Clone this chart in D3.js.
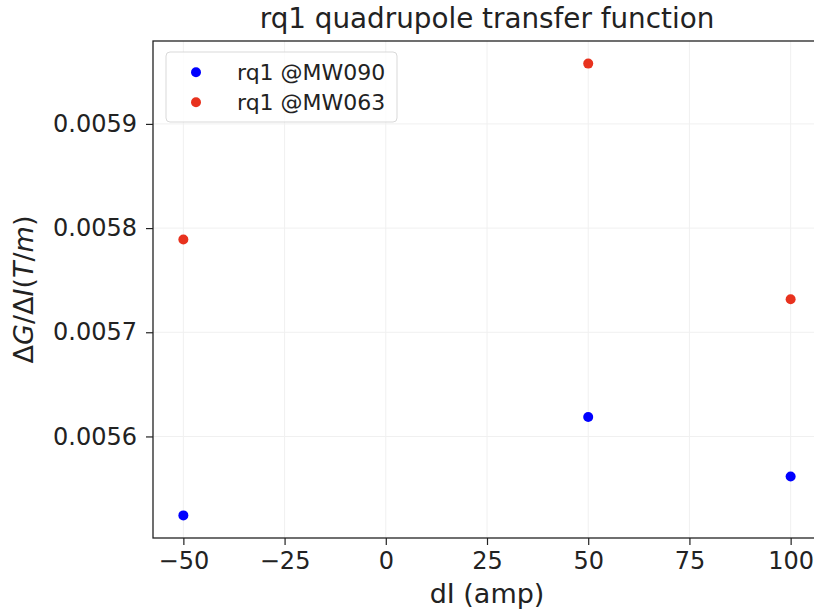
<!DOCTYPE html>
<html>
<head>
<meta charset="utf-8">
<script src="https://cdn.jsdelivr.net/npm/d3@7"></script>
<style>
  html, body { margin: 0; padding: 0; background: #fff; }
  svg { display: block; font-family: "DejaVu Sans", sans-serif; }
</style>
</head>
<body>
<svg id="chart" width="814" height="613"></svg>
<script>
// ---- data ----
const dI = [-50, 50, 100];
const seriesNames = ["rq1 @MW090", "rq1 @MW063"];
const seriesColors = ["#0000ff", "#e8321e"];
const valuesMW090 = [0.0055242, 0.0056186, 0.0055616];
const valuesMW063 = [0.0057890, 0.0059579, 0.0057317];
const xTicks = [-50, -25, 0, 25, 50, 75, 100];
const yTicks = [0.0056, 0.0057, 0.0058, 0.0059];
const titleText = "rq1 quadrupole transfer function";
const xLabelText = "dI (amp)";

(function () {
const series = [
  { name: seriesNames[0], color: seriesColors[0], values: valuesMW090 },
  { name: seriesNames[1], color: seriesColors[1], values: valuesMW063 }
];

// ---- layout ----
const svg = d3.select("#chart");
const pL = 153, pR = 821, pT = 41, pB = 538;

// matplotlib-like 5% margins
const xmin = d3.min(dI), xmax = d3.max(dI);
const xpad = (xmax - xmin) * 0.05;
const allY = valuesMW090.concat(valuesMW063);
const ymin = d3.min(allY), ymax = d3.max(allY);
const ypad = (ymax - ymin) * 0.05;

const x = d3.scaleLinear().domain([xmin - xpad, xmax + xpad]).range([pL, pR]);
const y = d3.scaleLinear().domain([ymin - ypad, ymax + ypad]).range([pB, pT]);

// grid
const grid = svg.append("g");
grid.selectAll("line.vx").data(xTicks).enter().append("line")
  .attr("x1", d => x(d)).attr("x2", d => x(d))
  .attr("y1", pT).attr("y2", pB)
  .attr("stroke", "#f0f0f0").attr("stroke-width", 1);
grid.selectAll("line.hy").data(yTicks).enter().append("line")
  .attr("x1", pL).attr("x2", pR)
  .attr("y1", d => y(d)).attr("y2", d => y(d))
  .attr("stroke", "#f0f0f0").attr("stroke-width", 1);

// points
series.forEach(s => {
  svg.append("g").selectAll("circle").data(dI).enter().append("circle")
    .attr("cx", d => x(d))
    .attr("cy", (d, i) => y(s.values[i]))
    .attr("r", 5)
    .attr("fill", s.color);
});

// axes
const fmtMinus = v => (v < 0 ? "\u2212" + Math.abs(v) : String(v));
const xAxis = d3.axisBottom(x).tickValues(xTicks).tickSize(7).tickPadding(7).tickFormat(fmtMinus);
const yAxis = d3.axisLeft(y).tickValues(yTicks).tickSize(7).tickPadding(9).tickFormat(d3.format(".4f"));

const gx = svg.append("g").attr("transform", `translate(0,${pB})`).call(xAxis);
const gy = svg.append("g").attr("transform", `translate(${pL},0)`).call(yAxis);
[gx, gy].forEach(g => {
  g.select(".domain").remove();
  g.selectAll(".tick line").attr("stroke", "#222").attr("stroke-width", 1.2);
  g.selectAll(".tick text").attr("fill", "#222")
    .style("font-family", "DejaVu Sans, sans-serif").style("font-size", "24px");
});

// spines
svg.append("rect")
  .attr("x", pL).attr("y", pT)
  .attr("width", pR - pL).attr("height", pB - pT)
  .attr("fill", "none").attr("stroke", "#222").attr("stroke-width", 1.3);

// title
svg.append("text")
  .attr("x", (pL + pR) / 2).attr("y", 28)
  .attr("text-anchor", "middle")
  .attr("fill", "#222")
  .style("font-size", "27.8px")
  .text(titleText);

// x label
svg.append("text")
  .attr("x", (pL + pR) / 2).attr("y", 603)
  .attr("text-anchor", "middle")
  .attr("fill", "#222")
  .style("font-size", "27px")
  .text(xLabelText);

// y label with math italics
const yl = svg.append("text")
  .attr("transform", `translate(33,${(pT + pB) / 2}) rotate(-90)`)
  .attr("text-anchor", "middle")
  .attr("fill", "#222")
  .style("font-size", "27px");
yl.append("tspan").text("\u0394");
yl.append("tspan").attr("font-style", "italic").text("G");
yl.append("tspan").text("/\u0394");
yl.append("tspan").attr("font-style", "italic").text("I");
yl.append("tspan").text("(");
yl.append("tspan").attr("font-style", "italic").text("T");
yl.append("tspan").text("/");
yl.append("tspan").attr("font-style", "italic").text("m");
yl.append("tspan").text(")");

// legend
const lg = svg.append("g");
lg.append("rect")
  .attr("x", 166).attr("y", 52).attr("width", 231).attr("height", 70)
  .attr("rx", 4).attr("ry", 4)
  .attr("fill", "rgba(255,255,255,0.8)")
  .attr("stroke", "#d9d9d9").attr("stroke-width", 1);
series.forEach((s, i) => {
  const cy = 72.3 + i * 30;
  lg.append("circle").attr("cx", 196).attr("cy", cy).attr("r", 5).attr("fill", s.color);
  lg.append("text").attr("x", 237).attr("y", cy + 8)
    .attr("fill", "#222").style("font-size", "22px").text(s.name);
});
})();
</script>
</body>
</html>
